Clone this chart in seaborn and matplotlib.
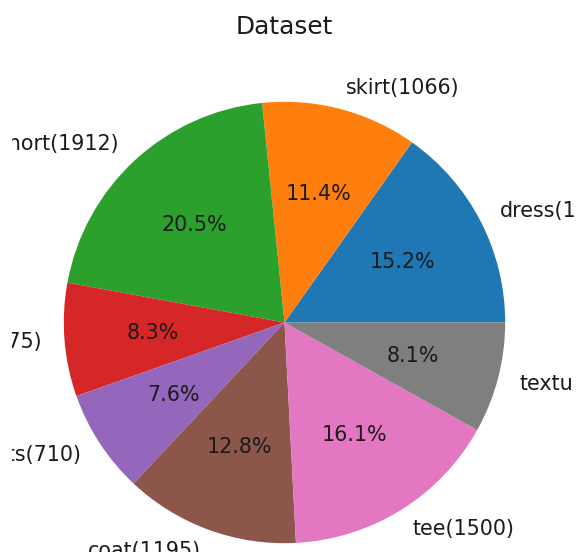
import matplotlib
matplotlib.use("Agg")
import matplotlib.pyplot as plt
from matplotlib.patches import Rectangle
import seaborn as sns

# Number of images per garment category
categories = ["dress", "skirt", "short", "shirt", "pants", "coat", "tee", "texture"]
counts = [1418, 1066, 1912, 775, 710, 1195, 1500, 756]
labels = [f"{c}({n})" for c, n in zip(categories, counts)]

colors = sns.color_palette("tab10", len(categories))

W, H, DPI = 579, 552, 100
fig = plt.figure(figsize=(W / DPI, H / DPI), dpi=DPI)
fig.patch.set_facecolor("white")

# Square axes; pie limits span +/-1.25 radii around the centre
cx, cy, r = 284.5, 322.5, 220.7
side = 2.5 * r
ax = fig.add_axes([(cx - side / 2) / W, (H - cy - side / 2) / H, side / W, side / H])

ax.pie(
    counts,
    labels=labels,
    colors=colors,
    autopct="%1.1f%%",
    startangle=0,
    counterclock=True,
    textprops={"fontsize": 14.9, "color": "#1a1a1a"},
)
for t in ax.texts:
    t.set_clip_on(False)
ax.set_title("Dataset", fontsize=17.8, pad=9, color="#1a1a1a")

# Canvas margins: long labels run past the drawing area and are cut there
for x0, x1 in [(0, 12), (574, W)]:
    fig.add_artist(Rectangle((x0 / W, 0), (x1 - x0) / W, 1,
                             transform=fig.transFigure, facecolor="white",
                             edgecolor="none", zorder=10))

fig.savefig("out.png", dpi=DPI, facecolor="white")
